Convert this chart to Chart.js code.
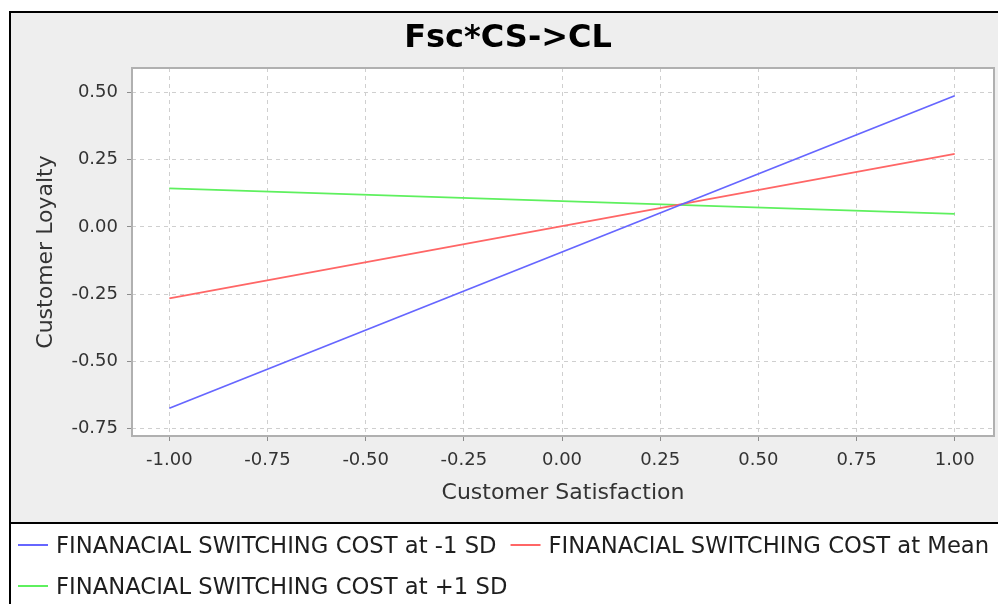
<!DOCTYPE html>
<html>
<head>
<meta charset="utf-8">
<script src="https://cdn.jsdelivr.net/npm/chart.js@4.4.1/dist/chart.umd.min.js"></script>
<style>
html,body{margin:0;padding:0;background:#ffffff;}
canvas{display:block;}
</style>
</head>
<body>
<canvas id="c" width="998" height="604"></canvas>
<script>
// ---- data ----
const chartTitle = 'Fsc*CS->CL';
const xAxisTitle = 'Customer Satisfaction';
const yAxisTitle = 'Customer Loyalty';
const xValues = [-1, 1];
const seriesLabels = [
  'FINANACIAL SWITCHING COST at -1 SD',
  'FINANACIAL SWITCHING COST at Mean',
  'FINANACIAL SWITCHING COST at +1 SD'
];
const lowSD  = [-0.674, 0.487];
const meanSD = [-0.266, 0.271];
const highSD = [0.143, 0.048];
const xTickValues = [-1.00, -0.75, -0.50, -0.25, 0.00, 0.25, 0.50, 0.75, 1.00];
const yTickValues = [-0.75, -0.50, -0.25, 0.00, 0.25, 0.50];

const seriesColors = ['#6666ff', '#ff6666', '#5ef05e'];
const FONT = 'DejaVu Sans';

function pts(vals) { return xValues.map((x, i) => ({x: x, y: vals[i]})); }

const frameAndLegend = {
  id: 'frameAndLegend',
  beforeDraw(chart) {
    const ctx = chart.ctx, a = chart.chartArea;
    ctx.save();
    ctx.fillStyle = '#ffffff';
    ctx.fillRect(0, 0, 998, 604);
    ctx.fillStyle = '#eeeeee';
    ctx.fillRect(11, 13, 987, 509);
    ctx.fillStyle = '#000000';
    ctx.fillRect(9, 11, 989, 2);
    ctx.fillRect(9, 11, 2, 593);
    ctx.fillRect(9, 522, 989, 2);
    ctx.fillStyle = '#ffffff';
    ctx.fillRect(a.left, a.top, a.right - a.left, a.bottom - a.top);
    ctx.restore();
  },
  afterDatasetsDraw(chart) {
    const ctx = chart.ctx, a = chart.chartArea;
    ctx.save();
    ctx.strokeStyle = '#b0b0b0';
    ctx.lineWidth = 2;
    ctx.strokeRect(a.left, a.top, a.right - a.left, a.bottom - a.top);
    ctx.restore();
  },
  afterDraw(chart) {
    const ctx = chart.ctx;
    ctx.save();
    ctx.font = '22.7px "' + FONT + '"';
    ctx.textBaseline = 'alphabetic';
    ctx.textAlign = 'left';
    const rows = [552.5, 593.5];
    let x = 18, row = 0;
    chart.data.datasets.forEach((ds) => {
      const w = ctx.measureText(ds.label).width;
      const itemW = 30 + 8 + w;
      if (x + itemW > 995 && x > 18) { row++; x = 18; }
      const y = rows[row];
      ctx.strokeStyle = ds.borderColor;
      ctx.lineWidth = 2;
      ctx.beginPath();
      ctx.moveTo(x, y - 7.5);
      ctx.lineTo(x + 30, y - 7.5);
      ctx.stroke();
      ctx.fillStyle = '#1e1e1e';
      ctx.fillText(ds.label, x + 38, y);
      x += itemW + 14;
    });
    ctx.restore();
  },
  afterLayout(chart) {
    if (chart.titleBlock) { chart.titleBlock.left += 12; }
  }
};

const fmt = (v) => Number(v).toFixed(2);

new Chart(document.getElementById('c'), {
  type: 'line',
  data: {
    datasets: [
      {label: seriesLabels[0], data: pts(lowSD),  borderColor: seriesColors[0], backgroundColor: seriesColors[0]},
      {label: seriesLabels[1], data: pts(meanSD), borderColor: seriesColors[1], backgroundColor: seriesColors[1]},
      {label: seriesLabels[2], data: pts(highSD), borderColor: seriesColors[2], backgroundColor: seriesColors[2]}
    ].map(d => Object.assign(d, {borderWidth: 1.8, pointRadius: 0, tension: 0, fill: false}))
  },
  options: {
    responsive: false,
    animation: false,
    layout: {padding: {left: 10, right: 4, top: 12, bottom: 82}},
    plugins: {
      legend: {display: false},
      tooltip: {enabled: false},
      title: {
        display: true,
        text: chartTitle,
        color: '#000000',
        font: {family: FONT, size: 32, weight: 'bold', lineHeight: 1},
        padding: {top: 11, bottom: 13}
      }
    },
    scales: {
      x: {
        type: 'linear',
        min: -1.095,
        max: 1.1,
        afterFit(s) { s.height = 86; },
        afterBuildTicks(s) { s.ticks = xTickValues.map(v => ({value: v})); },
        ticks: {
          stepSize: 0.25, includeBounds: false, autoSkip: false, maxRotation: 0,
          padding: 9, color: '#333333', font: {family: FONT, size: 18},
          callback: fmt
        },
        grid: {color: '#cfcfcf', lineWidth: 1, tickLength: 5, tickColor: '#8c8c8c', tickBorderDash: [], drawTicks: true},
        border: {display: false, dash: [4, 4]},
        title: {display: true, text: xAxisTitle, color: '#333333', font: {family: FONT, size: 22, lineHeight: 1}, padding: {top: 0, bottom: 18}}
      },
      y: {
        type: 'linear',
        min: -0.777,
        max: 0.59,
        afterFit(s) { s.width = 122; },
        afterBuildTicks(s) { s.ticks = yTickValues.map(v => ({value: v})); },
        ticks: {
          stepSize: 0.25, includeBounds: false, padding: 9, color: '#333333',
          font: {family: FONT, size: 18}, callback: fmt
        },
        grid: {color: '#cfcfcf', lineWidth: 1, tickLength: 5, tickColor: '#8c8c8c', tickBorderDash: [], drawTicks: true},
        border: {display: false, dash: [4, 4]},
        title: {display: true, text: yAxisTitle, color: '#333333', font: {family: FONT, size: 22, lineHeight: 1}, padding: {top: 25, bottom: 0}}
      }
    }
  },
  plugins: [frameAndLegend]
});
</script>
</body>
</html>
